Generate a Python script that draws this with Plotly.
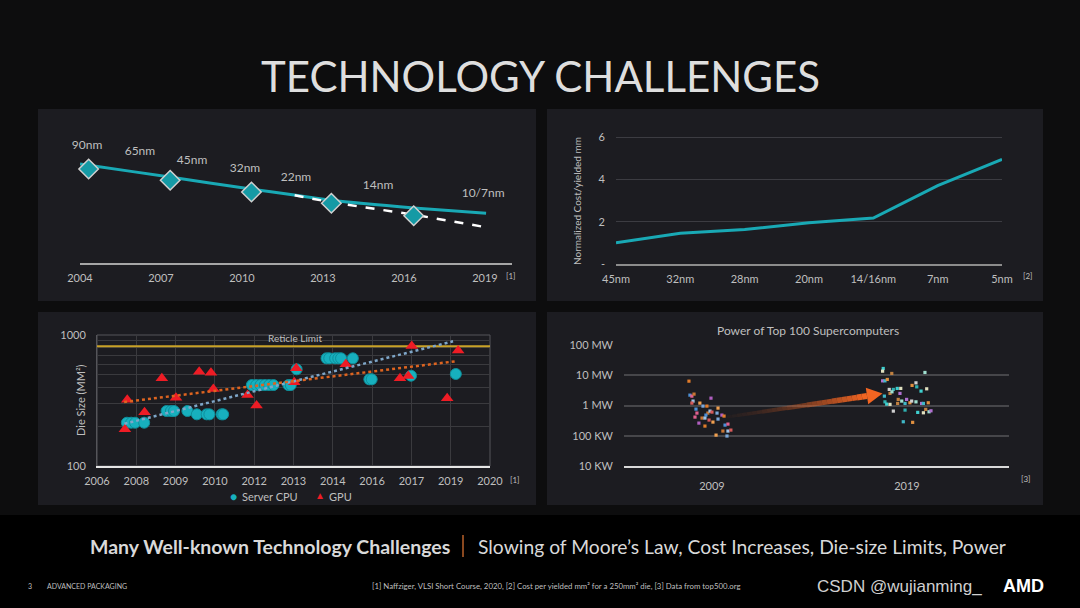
import plotly.graph_objects as go

W, H = 1080, 608
FONT = "Lato, 'Open Sans', sans-serif"
GRAY = "#bfbfbf"
TEAL = "#19a9b5"


def fx(p):
    return p / W


def fy(p):
    return 1 - p / H


# ---------------- data ----------------
# Panel 1: process-node trend (relative scale)
node_line_year = [2004.0, 2004.33, 2007.33, 2010.33, 2012.0, 2013.3, 2016.37, 2019.04]
node_line_val = [99, 97.7, 86, 74, 67.7, 62.7, 55, 49.7]
moore_year = [2011.95, 2013.3, 2016.37, 2019.05]
moore_val = [67.7, 60.7, 48.3, 35.7]
node_mark_year = [2004.32, 2007.34, 2010.35, 2013.31, 2016.36]
node_mark_val = [94, 82.7, 71, 59.7, 47.3]
node_names = ["90nm", "65nm", "45nm", "32nm", "22nm", "14nm", "10/7nm"]
node_name_year = [2004.26, 2006.22, 2008.15, 2010.11, 2012.0, 2015.04, 2018.93]
node_name_val = [117, 111, 102, 94, 85, 77, 69]
p1_years = [2004, 2007, 2010, 2013, 2016, 2019]

# Panel 2: normalized cost per yielded mm2
cost_nodes = ["45nm", "32nm", "28nm", "20nm", "14/16nm", "7nm", "5nm"]
cost_vals = [1.0, 1.45, 1.63, 1.95, 2.17, 3.7, 4.95]
cost_ticks = [0, 2, 4, 6]
cost_ticktext = ["-", "2", "4", "6"]

# Panel 3: die size (mm2), axis positions 0..10
die_ticktext = ["2006", "2008", "2009", "2010", "2012", "2013", "2014", "2016", "2017", "2019", "2020"]
cpu_x = [0.76, 0.87, 0.97, 1.20, 1.77, 1.88, 1.96, 2.30, 2.54, 2.79, 2.86, 3.17, 3.21,
         3.94, 4.05, 4.16, 4.27, 4.38, 4.49, 4.87, 4.93, 5.08, 5.84, 5.91, 6.06, 6.14,
         6.21, 6.51, 6.93, 6.99, 7.99, 9.13]
cpu_y = [214, 214, 214, 214, 263, 263, 263, 263, 248, 248, 248, 248, 248,
         415, 415, 415, 415, 415, 415, 415, 415, 547, 664, 664, 664, 664,
         664, 664, 459, 459, 489, 504]
gpu_x = [0.71, 0.77, 1.21, 1.65, 2.01, 2.60, 2.90, 2.96, 3.83, 4.06, 5.02, 5.07,
         6.33, 7.71, 7.92, 8.01, 8.91, 9.19]
gpu_y = [191, 321, 257, 467, 332, 524, 516, 387, 348, 289, 435, 557,
         597, 467, 486, 825, 329, 760]
cpu_trend_x = [0.70, 9.06]
cpu_trend_y = [210, 895]
gpu_trend_x = [0.69, 9.14]
gpu_trend_y = [308, 631]
reticle_x = [0, 10]
reticle_y = [820, 820]

# Panel 4: power of top-100 supercomputers (kW)
sc2009_x = [2007.82, 2007.87, 2007.97, 2008.08, 2008.03, 2007.97, 2008.38, 2008.54, 2008.95,
            2008.74, 2008.18, 2008.23, 2008.79, 2008.90, 2009.00, 2009.31, 2009.26, 2009.51,
            2009.62, 2008.69, 2008.13, 2008.49, 2008.64, 2008.85, 2009.05, 2009.31, 2008.33,
            2008.64, 2009.67, 2009.82, 2009.56, 2009.82, 2009.97, 2009.21, 2009.77]
sc2009_y = [6380, 2200, 2040, 2380, 1400, 1200, 1200, 955, 1750,
            955, 760, 561, 561, 653, 605, 820, 561, 482,
            447, 482, 414, 384, 384, 330, 283, 356, 262,
            209, 225, 243, 143, 143, 154, 105, 98]
sc2019_x = [2017.78, 2017.75, 2018.22, 2019.92, 2017.75, 2017.87, 2017.99, 2018.09, 2018.30,
            2018.50, 2018.68, 2018.13, 2018.23, 2018.64, 2017.84, 2019.26, 2019.46, 2019.50,
            2019.72, 2020.01, 2018.55, 2018.73, 2018.98, 2018.90, 2019.15, 2019.24, 2017.87,
            2017.96, 2018.13, 2018.52, 2019.46, 2019.75, 2019.84, 2020.09, 2018.30, 2018.90,
            2019.55, 2019.84, 2019.96, 2020.13, 2020.23, 2018.81, 2019.29]
sc2019_y = [16750, 13650, 11460, 12360, 6530, 6530, 7270, 3400, 3400,
            3670, 3670, 2510, 2830, 2510, 2040, 4610, 5610, 4140,
            2990, 3560, 1590, 1400, 1590, 1170, 1230, 1400, 1320,
            1110, 1090, 1170, 1320, 1170, 1170, 1230, 653, 705,
            592, 574, 743, 620, 668, 290, 277]
power_tickvals = [10, 100, 1000, 10000, 100000]
power_ticktext = ["10 KW", "100 KW", "1 MW", "10 MW", "100 MW"]

pal2009 = ["#e07b2a", "#4d8fd6", "#e0608f", "#c87533", "#9ec3e6", "#d65a5a", "#f0a050", "#7aa7d9", "#b05fc0"]
pal2019 = ["#3fd0d0", "#e0e0c0", "#c08040", "#a0e0d0", "#b070d0", "#40b8c8", "#e09040", "#d0d0d0", "#2fb0b0"]

# ---------------- figure ----------------
fig = go.Figure()
common = dict(showlegend=False, hoverinfo="skip")

# Panel 1
fig.add_trace(go.Scatter(x=node_line_year, y=node_line_val, mode="lines",
                         line=dict(color=TEAL, width=3, shape="spline", smoothing=0.6),
                         xaxis="x", yaxis="y", **common))
fig.add_trace(go.Scatter(x=moore_year, y=moore_val, mode="lines",
                         line=dict(color="white", width=2.5, dash="dash"),
                         xaxis="x", yaxis="y", **common))
fig.add_trace(go.Scatter(x=node_mark_year, y=node_mark_val, mode="markers",
                         marker=dict(symbol="diamond", size=15, color="#159aa5",
                                     line=dict(color="#d0d0d0", width=1.5)),
                         cliponaxis=False, xaxis="x", yaxis="y", **common))
fig.add_trace(go.Scatter(x=node_name_year, y=node_name_val, mode="text", text=node_names,
                         textfont=dict(family=FONT, size=12, color=GRAY), cliponaxis=False,
                         xaxis="x", yaxis="y", **common))

# Panel 2
fig.add_trace(go.Scatter(x=cost_nodes, y=cost_vals, mode="lines",
                         line=dict(color=TEAL, width=3),
                         xaxis="x2", yaxis="y2", **common))

# Panel 3
fig.add_trace(go.Scatter(x=reticle_x, y=reticle_y, mode="lines",
                         line=dict(color="#c9a227", width=2),
                         xaxis="x3", yaxis="y3", **common))
fig.add_trace(go.Scatter(x=cpu_x, y=cpu_y, mode="markers", name="Server CPU",
                         marker=dict(symbol="circle", size=11, color="#17b0be",
                                     line=dict(color="#0e8f9b", width=1)),
                         xaxis="x3", yaxis="y3", **common))
fig.add_trace(go.Scatter(x=gpu_x, y=gpu_y, mode="markers", name="GPU",
                         marker=dict(symbol="triangle-up", size=11, color="#ee1c25"),
                         xaxis="x3", yaxis="y3", **common))
fig.add_trace(go.Scatter(x=cpu_trend_x, y=cpu_trend_y, mode="lines",
                         line=dict(color="#7ea6c8", width=2.5, dash="dot"),
                         xaxis="x3", yaxis="y3", **common))
fig.add_trace(go.Scatter(x=gpu_trend_x, y=gpu_trend_y, mode="lines",
                         line=dict(color="#dd6420", width=2.5, dash="dot"),
                         xaxis="x3", yaxis="y3", **common))

# Panel 4
fig.add_trace(go.Scatter(x=sc2009_x, y=sc2009_y, mode="markers",
                         marker=dict(symbol="square", size=3.2,
                                     color=[pal2009[i % len(pal2009)] for i in range(len(sc2009_x))]),
                         xaxis="x4", yaxis="y4", **common))
fig.add_trace(go.Scatter(x=sc2019_x, y=sc2019_y, mode="markers",
                         marker=dict(symbol="square", size=3.2,
                                     color=[pal2019[i % len(pal2019)] for i in range(len(sc2019_x))]),
                         xaxis="x4", yaxis="y4", **common))

tickfont = dict(family=FONT, size=11, color=GRAY)

fig.update_layout(
    width=W, height=H, margin=dict(l=0, r=0, t=0, b=0, autoexpand=False),
    paper_bgcolor="#0d0d0e", plot_bgcolor="rgba(0,0,0,0)",
    font=dict(family=FONT, color=GRAY),
    showlegend=False,
    xaxis=dict(domain=[fx(80), fx(512)], range=[2004, 2020], anchor="y", automargin=False,
               tickvals=p1_years, showgrid=False, zeroline=False,
               showline=True, linecolor="#a6a6a6", linewidth=2,
               tickfont=tickfont, ticks="", ticklabelstandoff=4),
    yaxis=dict(domain=[fy(263), fy(113)], range=[0, 150], anchor="x", visible=False,
               automargin=False),
    xaxis2=dict(domain=[fx(616), fx(1002)], type="category", range=[0, 6], anchor="y2",
                automargin=False,
                showgrid=False, zeroline=False, showline=True, linecolor="#8c8c8c",
                linewidth=2, tickfont=tickfont, ticks="", ticklabelstandoff=4),
    yaxis2=dict(domain=[fy(264), fy(136)], range=[0, 6.05], anchor="x2", automargin=False,
                tickvals=cost_ticks, ticktext=cost_ticktext, showgrid=True,
                gridcolor="#3c3c42", gridwidth=1, zeroline=False, showline=False,
                tickfont=tickfont, ticks="", ticklabelstandoff=10),
    xaxis3=dict(domain=[fx(97), fx(490)], range=[0, 10], anchor="y3", automargin=False,
                tickvals=list(range(11)), ticktext=die_ticktext, showgrid=True,
                gridcolor="#3a3a3e", zeroline=False, showline=True, linecolor="#e6e6e6",
                linewidth=2, tickfont=tickfont, ticks="", ticklabelstandoff=4),
    yaxis3=dict(domain=[fy(466), fy(335)], type="log", range=[2, 3], anchor="x3",
                automargin=False,
                tickvals=[100, 200, 300, 400, 500, 600, 700, 800, 900, 1000],
                ticktext=["100", "", "", "", "", "", "", "", "", "1000"],
                showgrid=True, gridcolor="#3a3a3e", zeroline=False, showline=True,
                linecolor="#55555a", tickfont=tickfont, ticks="", ticklabelstandoff=8),
    xaxis4=dict(domain=[fx(624), fx(1009)], range=[2004.49, 2024.23], anchor="y4",
                automargin=False,
                tickvals=[2009, 2019], showgrid=False, zeroline=False, showline=True,
                linecolor="#d9d9d9", linewidth=1.5, tickfont=tickfont, ticks="",
                ticklabelstandoff=9),
    yaxis4=dict(domain=[fy(466), fy(345)], type="log", range=[1, 5], anchor="x4",
                automargin=False,
                tickvals=power_tickvals, ticktext=power_ticktext, showgrid=True,
                gridcolor="#46464a", gridwidth=2, zeroline=False, tickfont=tickfont,
                ticks="", ticklabelstandoff=10),
)

shapes = []
# panel backgrounds
for (x0, y0, x1, y1) in [(38, 109, 536, 301), (547, 109, 1043, 301),
                         (38, 312, 536, 505), (547, 312, 1043, 505)]:
    shapes.append(dict(type="rect", xref="paper", yref="paper", x0=fx(x0), x1=fx(x1),
                       y0=fy(y1), y1=fy(y0), fillcolor="#1c1c21", line=dict(width=0),
                       layer="below"))
# bottom strip
shapes.append(dict(type="rect", xref="paper", yref="paper", x0=0, x1=1, y0=0, y1=fy(515),
                   fillcolor="#000000", line=dict(width=0), layer="below"))
# panel 3 frame
shapes.append(dict(type="rect", xref="paper", yref="paper", x0=fx(97), x1=fx(490),
                   y0=fy(466), y1=fy(335), line=dict(color="#55555a", width=1), layer="below"))
# subtitle separator
shapes.append(dict(type="line", xref="paper", yref="paper", x0=fx(463), x1=fx(463),
                   y0=fy(557), y1=fy(535), line=dict(color="#b8602a", width=1.5)))

# gradient arrow (panel 4)
ax0, ay0, bx, by = 727, 417, 867, 396
N = 28
for i in range(N):
    t0, t1 = i / N, (i + 1) / N
    a = 0.04 + 0.96 * (t1 ** 1.6)
    shapes.append(dict(type="line", xref="paper", yref="paper",
                       x0=fx(ax0 + (bx - ax0) * t0), y0=fy(ay0 + (by - ay0) * t0),
                       x1=fx(ax0 + (bx - ax0) * t1), y1=fy(ay0 + (by - ay0) * t1),
                       line=dict(color=f"rgba(242,101,34,{a:.3f})", width=3 + 3 * t1)))
head = [(868.2, 404.2), (865.8, 387.8), (882.5, 393.6)]
path = "M {} {} L {} {} L {} {} Z".format(*[v for p in head for v in (fx(p[0]), fy(p[1]))])
shapes.append(dict(type="path", xref="paper", yref="paper", path=path,
                   fillcolor="#f26522", line=dict(width=0)))
fig.update_layout(shapes=shapes)

ann = []


def text(x, y, s, size, color=GRAY, xanchor="center", **kw):
    ann.append(dict(x=fx(x), y=fy(y), xref="paper", yref="paper", text=s, showarrow=False,
                    xanchor=xanchor, yanchor="middle",
                    font=dict(family=kw.pop("family", FONT), size=size, color=color), **kw))


text(540, 76, "TECHNOLOGY CHALLENGES", 42, "#dedede")
text(511, 276, "[1]", 8)
text(1028, 276, "[2]", 8)
text(515, 480, "[1]", 8)
text(1026, 479, "[3]", 8)
text(295, 338, "Reticle Limit", 10)
text(808, 330, "Power of Top 100 Supercomputers", 12)
# axis titles
text(577, 201, "Normalized Cost/yielded mm", 10, textangle=-90)
text(80, 400, "Die Size (MM²)", 11, textangle=-90)
# panel 3 legend
text(233, 496, "●", 12, "#17b0be")
text(240, 496, "Server CPU", 11, xanchor="left")
text(320, 495, "▲", 10, "#ee1c25")
text(327, 496, "GPU", 11, xanchor="left")
# subtitle
text(452, 546, "<b>Many Well-known Technology Challenges</b>", 19.5, "#d9d9d9", xanchor="right")
text(476, 546, "Slowing of Moore’s Law, Cost Increases, Die-size Limits, Power", 19.3, "#d9d9d9",
     xanchor="left")
# footer
text(30, 586, "3", 7, "#bfbfbf")
text(45, 586, "ADVANCED PACKAGING", 7, "#bfbfbf", xanchor="left")
text(556, 586, "[1] Naffziger, VLSI Short Course, 2020, [2] Cost per yielded mm² for a 250mm² die, "
     "[3] Data from top500.org", 7.8, "#bfbfbf")
text(815, 586, "CSDN @wujianming_", 17, "#d0d0d0", xanchor="left", family="'Liberation Sans', Arial")
text(1001, 586, "<b>AMD</b>", 18, "#ffffff", xanchor="left", family="'Liberation Sans', Arial")
fig.update_layout(annotations=ann)

fig.write_html("out.html", config={"displayModeBar": False},
               post_script="document.body.style.margin='0px';document.body.style.overflow='hidden';")
